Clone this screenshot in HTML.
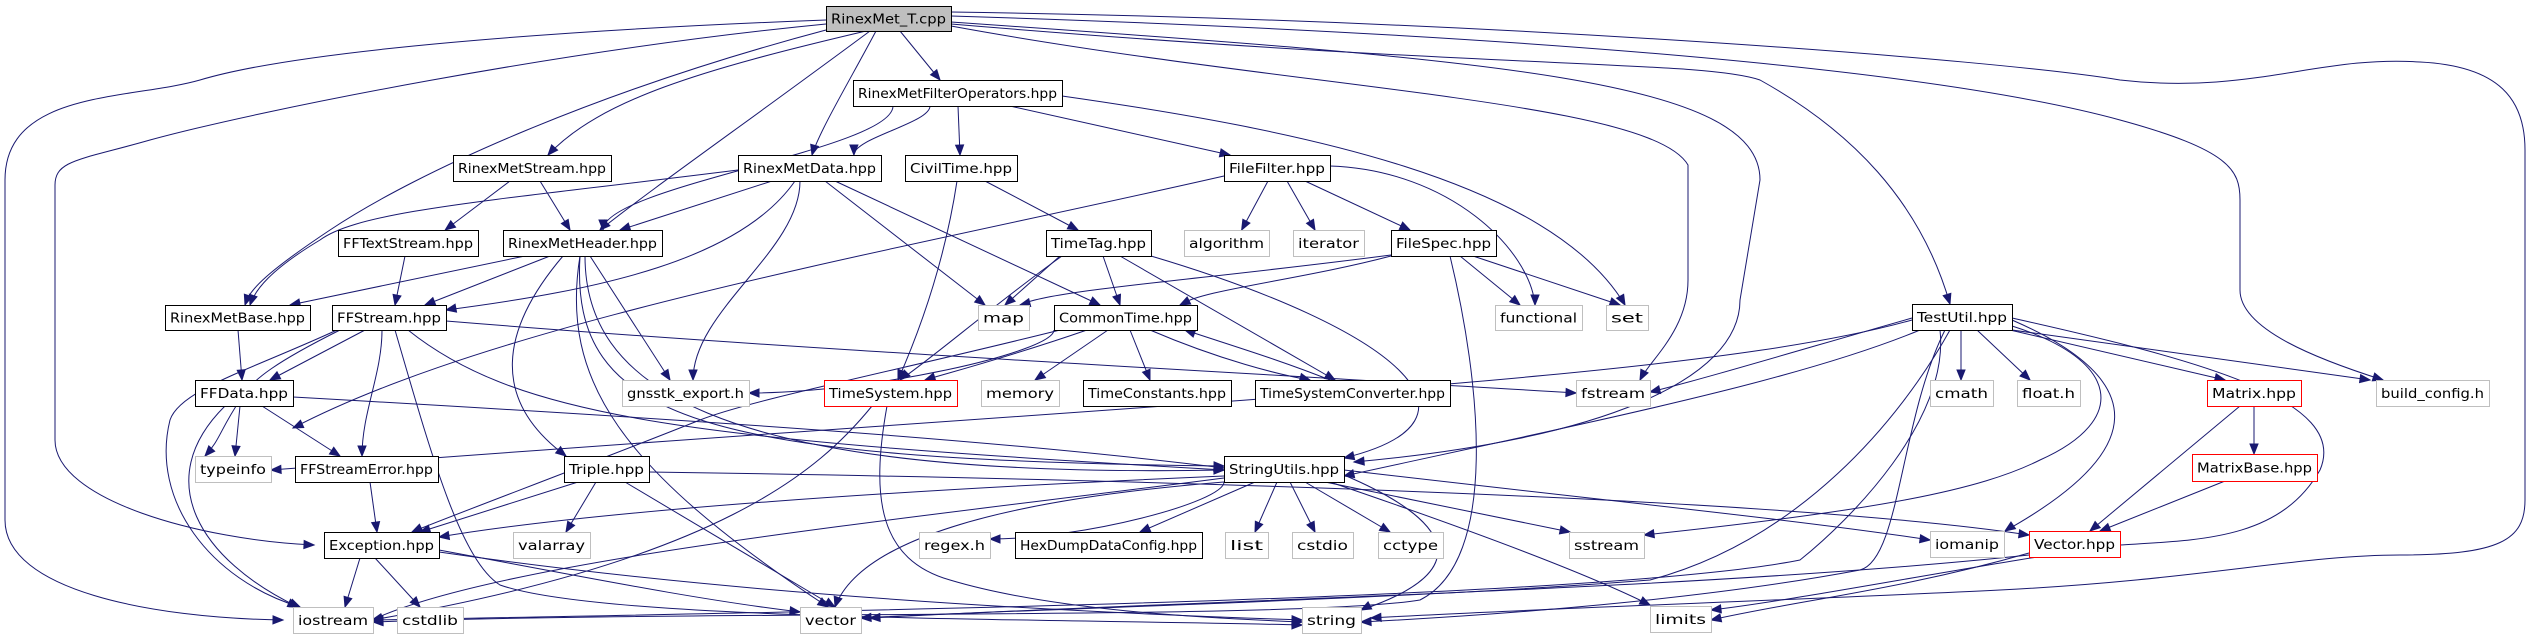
<!DOCTYPE html>
<html><head><meta charset="utf-8"><style>
html,body{margin:0;padding:0;background:#fff;}
svg{display:block}
text{font-family:"DejaVu Sans","Liberation Sans",sans-serif;font-size:13px;fill:#000}
</style></head><body>
<svg id="g" width="2527" height="635" xmlns="http://www.w3.org/2000/svg"></svg>
<script>
const N={
"RinexMet_T.cpp":[826,6,951,31,"root"],
"RinexMetFilterOperators.hpp":[853,80,1062,106],
"RinexMetStream.hpp":[453,155,611,181],
"RinexMetData.hpp":[738,155,881,181],
"CivilTime.hpp":[905,155,1017,181],
"FileFilter.hpp":[1224,155,1330,181],
"FFTextStream.hpp":[338,230,478,256],
"RinexMetHeader.hpp":[503,230,662,256],
"TimeTag.hpp":[1046,230,1151,256],
"algorithm":[1184,230,1269,256,"g"],
"iterator":[1293,230,1364,256,"g"],
"FileSpec.hpp":[1391,230,1496,256],
"RinexMetBase.hpp":[165,305,310,330],
"FFStream.hpp":[332,305,446,330],
"map":[978,305,1029,330,"g"],
"CommonTime.hpp":[1054,305,1197,330],
"functional":[1495,305,1582,330,"g"],
"set":[1606,305,1648,330,"g"],
"TestUtil.hpp":[1912,304,2012,330],
"FFData.hpp":[195,380,293,406],
"gnsstk_export.h":[622,380,749,406,"g"],
"TimeSystem.hpp":[824,380,957,406,"r"],
"memory":[981,380,1059,406,"g"],
"TimeConstants.hpp":[1083,380,1231,406],
"TimeSystemConverter.hpp":[1255,380,1450,406],
"fstream":[1576,380,1650,406,"g"],
"cmath":[1930,380,1993,406,"g"],
"float.h":[2017,380,2080,406,"g"],
"Matrix.hpp":[2207,380,2301,406,"r"],
"build_config.h":[2376,380,2489,406,"g"],
"typeinfo":[195,456,271,482,"g"],
"FFStreamError.hpp":[295,456,438,482],
"Triple.hpp":[564,456,649,482],
"StringUtils.hpp":[1224,456,1344,482],
"MatrixBase.hpp":[2192,454,2317,481,"r"],
"Exception.hpp":[324,532,439,558],
"valarray":[513,532,590,558,"g"],
"regex.h":[919,532,990,558,"g"],
"HexDumpDataConfig.hpp":[1015,532,1202,558],
"list":[1225,532,1268,558,"g"],
"cstdio":[1292,532,1353,558,"g"],
"cctype":[1378,532,1443,558,"g"],
"sstream":[1569,532,1644,558,"g"],
"iomanip":[1930,531,2004,557,"g"],
"Vector.hpp":[2029,531,2120,557,"r"],
"iostream":[293,607,373,633,"g"],
"cstdlib":[397,607,463,633,"g"],
"vector":[800,607,861,633,"g"],
"string":[1302,607,1361,633,"g"],
"limits":[1650,606,1711,632,"g"]
};
const C="#191970";
let out="";
function arrow(px,py,x,y){const dx=x-px,dy=y-py,l=Math.hypot(dx,dy)||1,ux=dx/l,uy=dy/l,L=10,W=4;
 const bx=x-ux*L,by=y-uy*L;
 return `<polygon points="${x},${y} ${bx-uy*W},${by+ux*W} ${bx+uy*W},${by-ux*W}" fill="${C}" stroke="${C}"/>`;}
function P(d,cx,cy,x,y){out+=`<path d="${d}" fill="none" stroke="${C}" stroke-width="1"/>`+arrow(cx,cy,x,y);}
function cl(v,a,b){return Math.max(a,Math.min(b,v));}
function E(a,b,o){o=o||{};const A=N[a],B=N[b];
 const acx=(A[0]+A[2])/2,acy=(A[1]+A[3])/2,bcx=(B[0]+B[2])/2,bcy=(B[1]+B[3])/2;
 let sx,sy,ex,ey,c1x,c1y,c2x,c2y;
 const end=o.end||(B[1]>A[3]+5?"top":(bcx>acx?"left":"right"));
 const st=o.start||(end=="top"?"bottom":(end=="left"?(B[1]>A[3]+5?"bottom":"right"):(B[1]>A[3]+5?"bottom":"left")));
 if(st=="bottom"){sx=cl(acx+(bcx-acx)*0.35,A[0]+6,A[2]-6);sy=A[3];}
 else if(st=="right"){sx=A[2];sy=acy;}else if(st=="left"){sx=A[0];sy=acy;}else{sx=cl(acx+(bcx-acx)*0.35,A[0]+6,A[2]-6);sy=A[1];}
 if(end=="top"){ex=cl(bcx+(acx-bcx)*0.3,B[0]+6,B[2]-6);ey=B[1];}
 else if(end=="left"){ex=B[0];ey=bcy+(o.dy||0);}else if(end=="right"){ex=B[2];ey=bcy+(o.dy||0);}else{ex=cl(bcx+(acx-bcx)*0.3,B[0]+6,B[2]-6);ey=B[3];}
 if(o.sx!==undefined)sx=o.sx; if(o.ex!==undefined)ex=o.ex;
 if(st=="bottom"||st=="top"){c1x=sx;c1y=sy+(ey-sy)*0.35;}else{c1x=sx+(ex-sx)*0.4;c1y=sy;}
 if(end=="top"||end=="bottom"){c2x=ex;c2y=ey-(ey-sy)*0.35;}else{c2x=ex-(ex-sx)*0.4;c2y=ey;}
 if(o.straight){c1x=sx;c1y=sy;c2x=sx+(ex-sx)*0.5;c2y=sy+(ey-sy)*0.5;}
 P(`M${sx},${sy} C${c1x},${c1y} ${c2x},${c2y} ${ex},${ey}`,c2x,c2y,ex,ey);}
// root custom
P("M826,20 C560,30 300,50 200,80 C130,100 5,90 5,180 L5,520 C5,590 150,618 283,620",150,618,283,620);
P("M826,24 C560,50 260,110 150,140 C80,160 55,160 55,185 L55,440 C55,500 200,540 314,545",200,540,314,545);
P("M951,12 C1500,20 2000,60 2120,80 C2250,95 2320,55 2420,62 C2500,66 2525,100 2525,150 L2525,500 C2525,540 2500,555 2400,555 C2300,555 2200,580 2000,590 C1800,600 1500,610 1371,618",1500,610,1371,618);
P("M951,16 C1400,30 1900,60 2120,120 C2230,150 2240,170 2240,200 L2240,290 C2240,330 2320,360 2383,380",2320,360,2383,380);
P("M951,22 C1500,60 1760,80 1760,180 L1740,300 C1740,380 1600,440 1354,462",1600,440,1354,462);
P("M951,26 C1300,90 1650,100 1688,165 L1688,280 C1688,330 1650,360 1640,380",1650,360,1640,380);
P("M951,24 C1500,70 1700,60 1760,80 C1850,130 1920,200 1950,304",1930,240,1950,304);
P("M826,30 C600,90 420,170 330,230 C270,270 248,290 245,305",250,290,245,305);
P("M866,31 C700,70 600,100 548,155",570,130,548,155);
P("M870,31 C750,120 650,190 600,230",620,210,600,230);
P("M876,31 C850,80 820,130 812,155",816,140,812,155);
P("M900,31 L940,80",900,31,940,80);
// filter ops
E("RinexMetFilterOperators.hpp","RinexMetHeader.hpp",{sx:893,ex:603});
E("RinexMetFilterOperators.hpp","RinexMetData.hpp",{sx:930});
E("RinexMetFilterOperators.hpp","CivilTime.hpp",{sx:958,ex:960,straight:1});
E("RinexMetFilterOperators.hpp","FileFilter.hpp",{sx:1010,straight:1});
P("M1062,96 C1300,130 1550,180 1625,305",1600,260,1625,305);
E("RinexMetStream.hpp","FFTextStream.hpp",{sx:510,straight:1});
E("RinexMetStream.hpp","RinexMetHeader.hpp",{sx:540,ex:570,straight:1});
P("M738,170 C500,200 360,210 320,240 C270,270 255,290 250,305",255,290,250,305);
E("RinexMetData.hpp","RinexMetHeader.hpp",{sx:772,ex:620,straight:1});
P("M795,181 C740,260 600,290 446,310",500,300,446,310);
E("RinexMetData.hpp","gnsstk_export.h",{sx:800,ex:693});
E("RinexMetData.hpp","map",{sx:825,ex:985,straight:1});
E("RinexMetData.hpp","CommonTime.hpp",{sx:835,ex:1100,straight:1});
E("CivilTime.hpp","TimeTag.hpp",{sx:985,ex:1078,straight:1});
P("M957,181 C945,260 920,330 898,380",910,350,898,380);
P("M1224,176 C900,250 500,320 293,428",400,380,293,428);
E("FileFilter.hpp","algorithm",{sx:1268,straight:1});
E("FileFilter.hpp","iterator",{sx:1287,ex:1315,straight:1});
E("FileFilter.hpp","FileSpec.hpp",{sx:1305,ex:1410,straight:1});
P("M1330,166 C1450,170 1530,250 1535,305",1535,270,1535,305);
E("FFTextStream.hpp","FFStream.hpp",{sx:405,ex:395,straight:1});
E("RinexMetHeader.hpp","RinexMetBase.hpp",{sx:525,ex:290,straight:1});
E("RinexMetHeader.hpp","FFStream.hpp",{sx:550,ex:425,straight:1});
P("M563,256 C500,330 490,400 566,456",520,420,566,456);
E("RinexMetHeader.hpp","gnsstk_export.h",{sx:590,ex:670,straight:1});
P("M580,256 C560,380 620,470 828,607",700,520,828,607);
P("M580,256 C570,420 700,460 1224,466",1000,462,1224,466);
P("M585,256 C585,380 700,480 1224,470",1000,470,1224,470);
E("TimeTag.hpp","map",{sx:1060,ex:1005,straight:1});
E("TimeTag.hpp","CommonTime.hpp",{sx:1103,ex:1120,straight:1});
P("M1062,256 C1000,300 930,360 900,380",920,360,900,380);
E("TimeTag.hpp","TimeSystemConverter.hpp",{sx:1120,ex:1335,straight:1});
P("M1151,256 C1400,330 1500,420 1344,458",1400,445,1344,458);
P("M1391,255 C1200,280 1050,290 1020,305",1040,300,1020,305);
P("M1391,256 C1300,280 1200,290 1180,305",1200,295,1180,305);
E("FileSpec.hpp","functional",{sx:1460,ex:1520,straight:1});
E("FileSpec.hpp","set",{sx:1473,ex:1620,straight:1});
P("M1450,256 C1480,380 1500,560 1420,600 C1300,620 700,610 373,622",700,612,373,622);
E("RinexMetBase.hpp","FFData.hpp",{sx:238,ex:242,straight:1});
E("FFStream.hpp","FFData.hpp",{sx:365,ex:270,straight:1});
P("M340,330 C280,360 250,380 240,400 C220,430 220,440 205,456",215,445,205,456);
P("M337,330 C250,370 180,390 170,420 C150,500 210,580 300,607",260,590,300,607);
E("FFStream.hpp","FFStreamError.hpp",{sx:382,ex:362});
P("M395,330 C430,450 460,560 500,585 C600,620 1000,618 1302,625",1100,622,1302,625);
P("M408,330 C520,420 700,440 1224,470",1000,466,1224,470);
P("M446,321 C800,350 1200,370 1576,393",1400,385,1576,393);
E("CommonTime.hpp","gnsstk_export.h",{sx:1054,ex:749,end:"right"});
P("M1087,330 C1000,360 940,375 925,380",950,372,925,380);
E("CommonTime.hpp","memory",{sx:1108,ex:1035,straight:1});
E("CommonTime.hpp","TimeConstants.hpp",{sx:1130,ex:1150,straight:1});
P("M1150,330 C1220,360 1280,375 1310,380",1280,372,1310,380);
P("M1330,380 C1280,360 1230,345 1185,330",1220,342,1185,330);
P("M1060,330 C900,370 750,400 700,420 C600,460 440,520 412,532",460,510,412,532);
P("M872,406 C820,470 720,560 372,620",500,600,372,620);
P("M887,406 C870,500 880,560 950,580 C1050,610 1200,618 1302,622",1200,618,1302,622);
E("FFData.hpp","typeinfo",{sx:240,ex:235,straight:1});
E("FFData.hpp","FFStreamError.hpp",{sx:262,ex:340,straight:1});
P("M225,406 C150,480 200,560 298,607",260,590,298,607);
P("M293,397 C700,420 1000,440 1224,468",1000,445,1224,468);
E("FFStreamError.hpp","Exception.hpp",{sx:370,ex:377,straight:1});
E("Triple.hpp","Exception.hpp",{sx:578,ex:420,straight:1});
E("Triple.hpp","valarray",{sx:596,ex:566,straight:1});
E("Triple.hpp","vector",{sx:625,ex:835,straight:1});
P("M649,472 C1200,480 1800,500 2029,535",1800,505,2029,535);
P("M1224,476 C900,490 600,510 439,537",600,512,439,537);
P("M1224,478 C900,520 500,560 372,620",500,590,372,620);
P("M1224,482 C1000,500 860,540 835,607",850,560,835,607);
E("StringUtils.hpp","regex.h",{sx:1224,ex:990,end:"right",dy:-6});
E("StringUtils.hpp","HexDumpDataConfig.hpp",{sx:1255,ex:1140,straight:1});
E("StringUtils.hpp","list",{sx:1277,ex:1255,straight:1});
E("StringUtils.hpp","cstdio",{sx:1290,ex:1315,straight:1});
E("StringUtils.hpp","cctype",{sx:1305,ex:1390,straight:1});
E("StringUtils.hpp","sstream",{sx:1325,ex:1570,straight:1});
P("M1344,475 C1450,520 1480,570 1361,610",1400,590,1361,610);
P("M1330,482 C1500,540 1600,580 1650,605",1620,590,1650,605);
P("M1344,470 C1600,500 1800,520 1930,540",1850,530,1930,540);
E("Exception.hpp","iostream",{sx:360,ex:345,straight:1});
E("Exception.hpp","cstdlib",{sx:375,ex:420,straight:1});
P("M439,552 C700,590 1000,610 1302,620",1100,615,1302,620);
P("M439,550 C600,580 700,600 800,612",700,600,800,612);
// TestUtil
P("M1912,318 C1800,350 1700,380 1650,392",1700,380,1650,392);
P("M1912,320 C1700,380 1200,400 271,470",800,440,271,470);
P("M1920,330 C1800,380 1600,420 1344,476",1500,440,1344,476);
E("TestUtil.hpp","cmath",{sx:1961,ex:1961,straight:1});
E("TestUtil.hpp","float.h",{sx:1977,ex:2030,straight:1});
E("TestUtil.hpp","Matrix.hpp",{sx:2010,ex:2225,straight:1});
E("TestUtil.hpp","build_config.h",{sx:2012,ex:2370,straight:1});
P("M2012,326 C2120,360 2130,420 2040,460 C1980,490 1880,510 1644,535",1800,515,1644,535);
P("M2012,320 C2150,380 2150,450 2005,531",2050,500,2005,531);
P("M1950,330 C1900,420 1800,540 1650,580 C1400,600 1000,610 861,618",1000,610,861,618);
P("M1945,330 C1900,420 1900,560 1860,570 C1700,600 1500,615 1361,622",1500,615,1361,622);
P("M2012,318 C2200,360 2350,400 2320,470 C2280,540 2200,540 2120,545 C2000,560 1800,600 1711,610",1800,600,1711,610);
P("M1940,330 C1950,420 1850,520 1800,560 C1600,600 800,612 373,620",800,612,373,620);
E("Matrix.hpp","MatrixBase.hpp",{sx:2254,ex:2254,straight:1});
E("Matrix.hpp","Vector.hpp",{sx:2240,ex:2090,straight:1});
E("MatrixBase.hpp","Vector.hpp",{sx:2225,ex:2100,straight:1});
P("M2029,555 C1700,590 1200,600 870,618",1200,600,870,618);
P("M2029,553 C1900,590 1800,600 1711,620",1780,605,1711,620);
// nodes
for(const k in N){const [x1,y1,x2,y2,s]=N[k];
 const stroke=s=="g"?"#bfbfbf":(s=="r"?"#ff0000":"#000");
 const fill=s=="root"?"#bfbfbf":"#fff";
 out+=`<rect x="${x1+0.5}" y="${y1+0.5}" width="${x2-x1}" height="${y2-y1}" fill="${fill}" stroke="${stroke}" stroke-width="1"/>`;
 const w=x2-x1-10;
 out+=`<text x="${(x1+x2)/2}" y="${(y1+y2)/2+5}" text-anchor="middle" textLength="${w}" lengthAdjust="spacingAndGlyphs">${k}</text>`;}
document.getElementById("g").innerHTML=out;
</script>
</body></html>
